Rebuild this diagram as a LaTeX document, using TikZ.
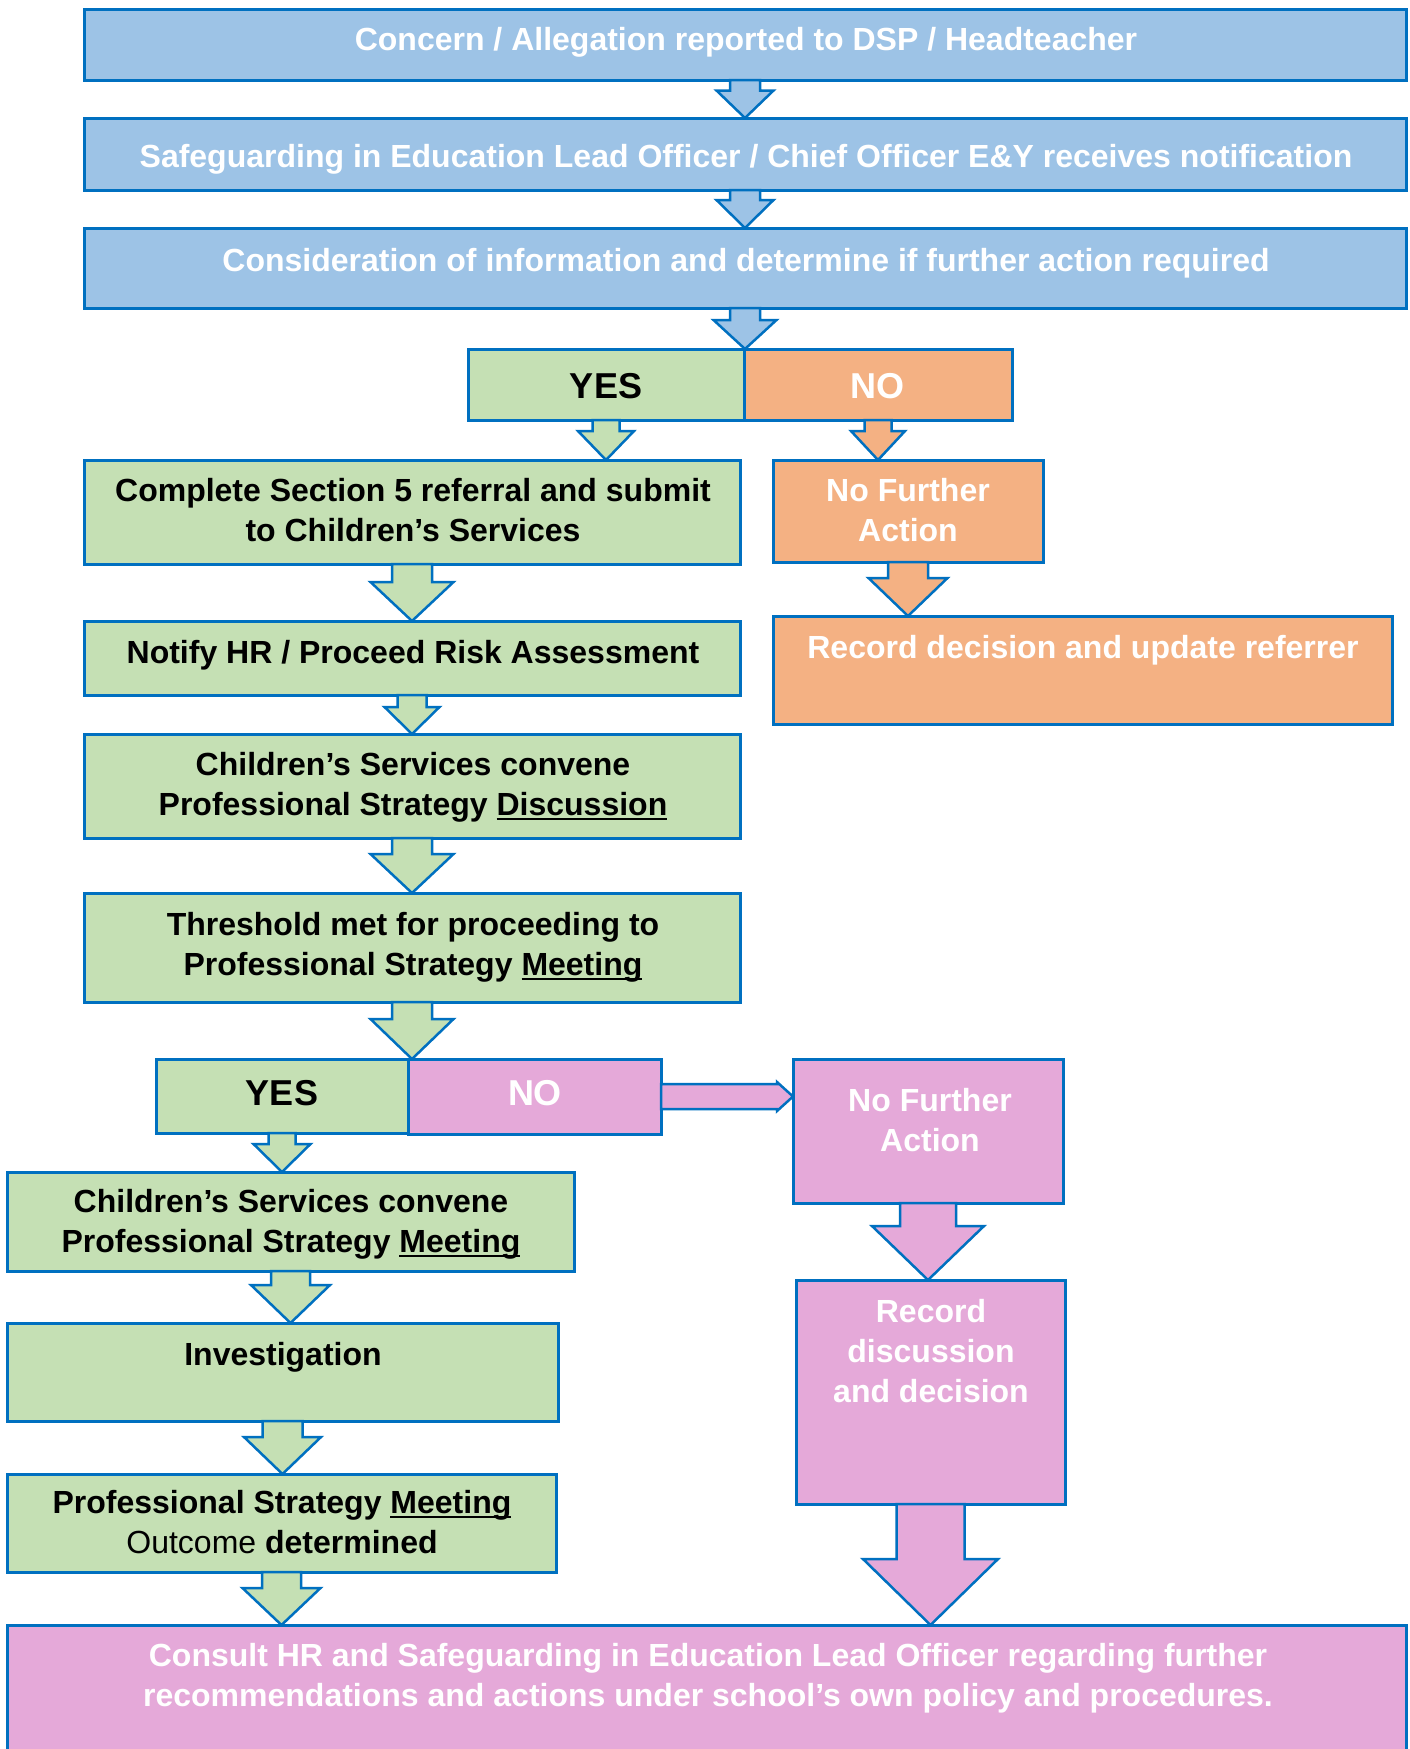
\documentclass[tikz,border=0pt]{standalone}
\usepackage{fontspec}
\setmainfont{Liberation Sans}
\usetikzlibrary{calc}
\definecolor{bluefill}{RGB}{157,195,230}
\definecolor{greenfill}{RGB}{197,224,180}
\definecolor{orangefill}{RGB}{244,177,131}
\definecolor{pinkfill}{RGB}{229,169,217}
\definecolor{edge}{RGB}{0,112,192}
\tikzset{
  box/.style={draw=edge,line width=3pt,inner sep=0pt,outer sep=0pt,anchor=north west},
  flowarrow/.style={draw=edge,line width=2.5pt,line join=miter},
  wtxt/.style={text=white,font=\fontsize{32}{40}\selectfont\bfseries,align=center,inner sep=0pt},
  btxt/.style={wtxt,text=black},
  bigw/.style={wtxt,font=\fontsize{36}{40}\selectfont\bfseries},
  bigb/.style={bigw,text=black}
}
\newcommand{\undl}[1]{\setbox0\hbox{#1}\rlap{\rule[-5pt]{\wd0}{2.5pt}}\box0}
\newcommand{\blockdown}[6]{%
  \path (#2.south) coordinate (bs) (#2.south |- #3.north) coordinate (bt);
  \draw[flowarrow,fill=#1] ($(bs)+(-#4,0)$) -- ($(bt)+(-#4,-#6)$) -- ($(bt)+(-#5,-#6)$) -- (bt)
    -- ($(bt)+(#5,-#6)$) -- ($(bt)+(#4,-#6)$) -- ($(bs)+(#4,0)$) -- cycle;}
\newcommand{\blockright}[6]{%
  \path (#2.east) coordinate (bs) (#2.east -| #3.west) coordinate (bt);
  \draw[flowarrow,fill=#1] ($(bs)+(0,-#4)$) -- ($(bt)+(-#6,-#4)$) -- ($(bt)+(-#6,-#5)$) -- (bt)
    -- ($(bt)+(-#6,#5)$) -- ($(bt)+(-#6,#4)$) -- ($(bs)+(0,#4)$) -- cycle;}
\begin{document}
\begin{tikzpicture}[x=1pt,y=-1pt]
        \clip (0,0) rectangle (1410,1749);
        \fill[white] (0,0) rectangle (1410,1749);
        \node[box,fill=bluefill,minimum width=1322pt,minimum height=71pt] (concern) at (84,9) {};
        \node[box,fill=bluefill,minimum width=1322pt,minimum height=72pt] (safeguard) at (84,118) {};
        \node[box,fill=bluefill,minimum width=1322pt,minimum height=80pt] (consider) at (84,228) {};
        \node[box,fill=greenfill,minimum width=276pt,minimum height=71pt] (yesa) at (468,349) {};
        \node[box,fill=orangefill,minimum width=268pt,minimum height=71pt] (noa) at (744,349) {};
        \node[box,fill=greenfill,minimum width=656pt,minimum height=104pt] (complete) at (84,460) {};
        \node[box,fill=orangefill,minimum width=270pt,minimum height=102pt] (nfaa) at (773,460) {};
        \node[box,fill=greenfill,minimum width=656pt,minimum height=74pt] (notify) at (84,621) {};
        \node[box,fill=orangefill,minimum width=619pt,minimum height=108pt] (recorda) at (773,616) {};
        \node[box,fill=greenfill,minimum width=656pt,minimum height=104pt] (discussion) at (84,734) {};
        \node[box,fill=greenfill,minimum width=656pt,minimum height=109pt] (threshold) at (84,893) {};
        \node[box,fill=greenfill,minimum width=252pt,minimum height=74pt] (yesb) at (156,1059) {};
        \node[box,fill=pinkfill,minimum width=253pt,minimum height=75pt] (nob) at (408,1059) {};
        \node[box,fill=pinkfill,minimum width=270pt,minimum height=144pt] (nfab) at (793,1059) {};
        \node[box,fill=greenfill,minimum width=567pt,minimum height=99pt] (meeting) at (7,1172) {};
        \node[box,fill=pinkfill,minimum width=269pt,minimum height=224pt] (recordb) at (796,1280) {};
        \node[box,fill=greenfill,minimum width=551pt,minimum height=98pt] (investigation) at (7,1323) {};
        \node[box,fill=greenfill,minimum width=549pt,minimum height=98pt] (outcome) at (7,1474) {};
        \node[box,fill=pinkfill,minimum width=1399pt,minimum height=150pt] (consult) at (7,1625) {};

        \node[wtxt] (concerntxt) at (746,42) {Concern / Allegation reported to DSP / Headteacher};
        \node[wtxt] (safeguardtxt) at (746,159) {Safeguarding in Education Lead Officer / Chief Officer E\&Y receives notification};
        \node[wtxt] (considertxt) at (746,263) {Consideration of information and determine if further action required};
        \node[bigb] (yesatxt) at (606,386) {YES};
        \node[bigw] (noatxt) at (877,386) {NO};
        \node[btxt] (completetxt) at (413,510) {Complete Section 5 referral and submit\\to Children’s Services};
        \node[wtxt] (nfaatxt) at (908,510) {No Further\\Action};
        \node[btxt] (notifytxt) at (413,655) {Notify HR / Proceed Risk Assessment};
        \node[wtxt] (recordatxt) at (1083,650) {Record decision and update referrer};
        \node[btxt] (discussiontxt) at (413,787) {Children’s Services convene\\Professional Strategy \undl{Discussion}};
        \node[btxt] (thresholdtxt) at (413,947) {Threshold met for proceeding to\\Professional Strategy \undl{Meeting}};
        \node[bigb] (yesbtxt) at (282,1093) {YES};
        \node[bigw] (nobtxt) at (535,1093) {NO};
        \node[wtxt] (nfabtxt) at (930,1120) {No Further\\Action};
        \node[btxt] (meetingtxt) at (291,1224) {Children’s Services convene\\Professional Strategy \undl{Meeting}};
        \node[wtxt] (recordbtxt) at (931,1351) {Record\\discussion\\and decision};
        \node[btxt] (investigationtxt) at (283,1357) {Investigation};
        \node[btxt] (outcometxt) at (282,1522) {Professional Strategy \undl{Meeting}\\{\mdseries Outcome} determined};
        \node[wtxt] (consulttxt) at (708,1678) {Consult HR and Safeguarding in Education Lead Officer regarding further\\recommendations and actions under school’s own policy and procedures.};

        \blockdown{bluefill}{concern}{safeguard}{15}{28.5}{27.5}
        \blockdown{bluefill}{safeguard}{consider}{15}{28.5}{28}
        \blockdown{bluefill}{consider}{yesa}{15}{31.5}{29}
        \blockdown{greenfill}{yesa}{complete}{13.5}{28}{29}
        \blockdown{orangefill}{noa}{nfaa}{13.5}{27}{29}
        \blockdown{greenfill}{complete}{notify}{20}{41.5}{39}
        \blockdown{orangefill}{nfaa}{recorda}{20}{39.5}{38}
        \blockdown{greenfill}{notify}{discussion}{14.5}{27.5}{27}
        \blockdown{greenfill}{discussion}{threshold}{20}{41.5}{39}
        \blockdown{greenfill}{threshold}{yesb}{20}{41.5}{40}
        \blockright{pinkfill}{nob}{nfab}{12.5}{14.5}{16}
        \blockdown{greenfill}{yesb}{meeting}{13.5}{28.5}{28}
        \blockdown{pinkfill}{nfab}{recordb}{28}{56}{54}
        \blockdown{greenfill}{meeting}{investigation}{19.5}{39.5}{38}
        \blockdown{greenfill}{investigation}{outcome}{20}{38.5}{37}
        \blockdown{greenfill}{outcome}{consult}{19.5}{39}{37}
        \blockdown{pinkfill}{recordb}{consult}{34}{67.5}{66}
    \end{tikzpicture}
\end{document}
